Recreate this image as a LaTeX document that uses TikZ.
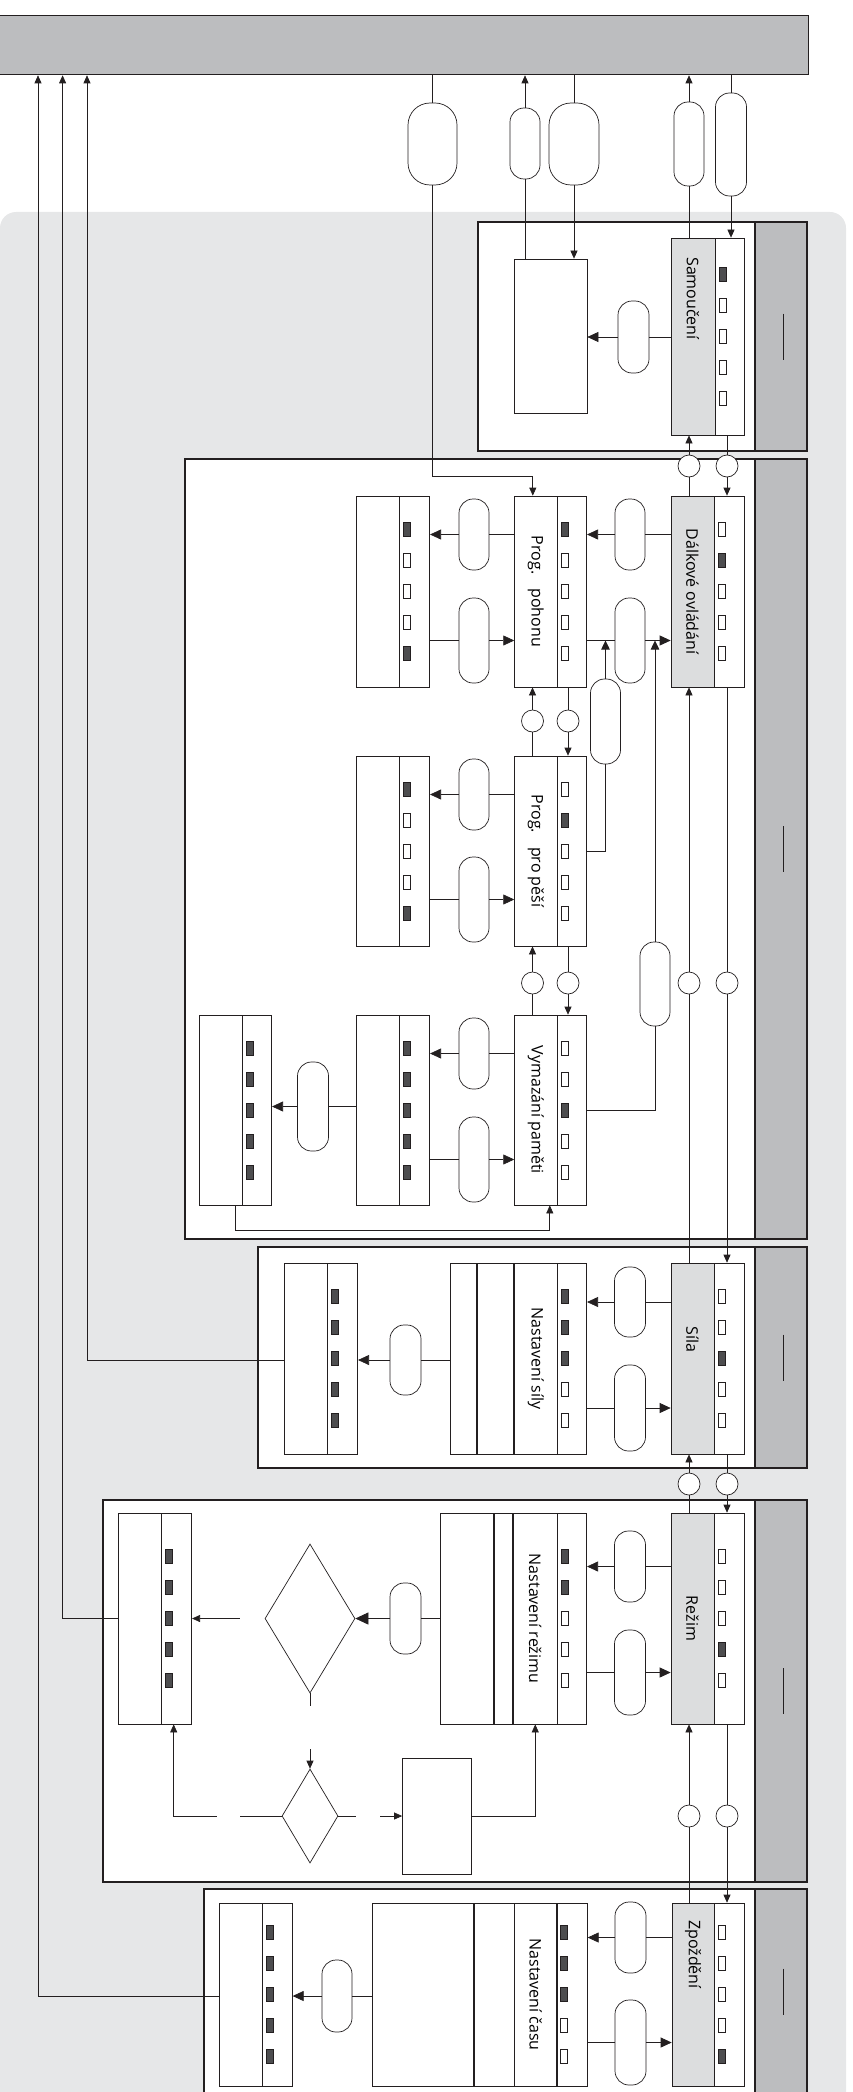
\documentclass[tikz,border=0pt]{standalone}
\usepackage{fontspec}
\setmainfont{Open Sans}
\usepackage{graphicx}
\usetikzlibrary{arrows.meta,positioning,calc,shapes.geometric}

\definecolor{bggray}{HTML}{E6E7E8}
\definecolor{midgray}{HTML}{BCBDBF}
\definecolor{hdrgray}{HTML}{DCDDDE}
\definecolor{dk}{HTML}{4D4D4F}
\definecolor{ln}{HTML}{231F20}

% vertical text, optional trailing space moves it up
\newcommand\vt[2][0pt]{\rotatebox{-90}{#2\hspace*{#1}}}
% five indicator lamps in a column node
\newcommand\inds[2]{%
  \foreach \s [count=\k] in {#2}
    \node[ind, fill=\s] (#1-\k) at ($(#1.west)+(7,{(\k-3)*31})$) {};}

\tikzset{
  lanebox/.style={draw=ln, line width=1.4pt, fill=white},
  strip/.style={draw=ln, line width=1.4pt, fill=midgray},
  bus/.style={draw=ln, line width=1.3pt, fill=midgray, inner sep=0pt},
  cell/.style={draw=ln, line width=0.7pt, fill=white, inner sep=0pt, minimum height=#1},
  hdr/.style={cell=#1, fill=hdrgray},
  ind/.style={draw=ln, line width=0.6pt, minimum width=7pt, minimum height=14pt, inner sep=0pt},
  cond/.style={draw=ln, line width=0.7pt, fill=white, rounded corners=14pt,
    minimum width=30pt, minimum height=#1, inner sep=0pt},
  conn/.style={circle, draw=ln, line width=0.7pt, fill=white, minimum size=22pt, inner sep=0pt},
  dec/.style={diamond, draw=ln, line width=0.7pt, fill=white, inner sep=0pt},
  arr/.style={-{Triangle[length=11pt,width=10pt]}},
  arrm/.style={-{Triangle[length=9pt,width=8.5pt]}},
  arrs/.style={-{Triangle[length=8pt,width=7pt]}},
}

\begin{document}
\begin{tikzpicture}[x=1pt, y=-1pt, line width=0.7pt, draw=ln,
  every node/.style={font=\fontsize{16pt}{19pt}\selectfont}]

  \useasboundingbox (0,0) rectangle (853,2092);

  % background and bus
  \fill[bggray, rounded corners=16pt] (0,212) rectangle (846,2140);
  \node[bus, minimum width=810pt, minimum height=59pt, anchor=north west] (bus) at (-2,15) {};

  % lanes with header strip
  \foreach \xl/\ya/\yb in {478/222/451, 185/459/1239, 258/1247/1468, 103/1500/1882, 204/1889/2094} {
    \draw[lanebox] (\xl,\ya) rectangle (807,\yb);
    \draw[strip] (755,\ya) rectangle (807,\yb);
    \draw (783,{(\ya+\yb)/2-23}) -- (783,{(\ya+\yb)/2+23});
  }

  % Samouceni lane
  \node[hdr=197pt, minimum width=44pt] (sam) at (693,336.5) {\vt[76pt]{Samoučení}};
  \node[cell=197pt, minimum width=29pt, right=0pt of sam] (samI) {};
  \inds{samI}{dk,white,white,white,white}
  \node[cell=154pt, minimum width=73pt] (samT) at (550.5,336) {};
  \node[cond=72pt, minimum width=31pt] (o1) at (633.5,337) {};
  \draw (sam.west |- o1) -- (o1);
  \draw[arr] (o1) -- (samT.east |- o1);

  % links to the bus
  \node[cond=82pt, minimum width=49pt, rounded corners=22pt] (oa) at (432.5,144) {};
  \node[cond=71pt] (ob) at (525,143.5) {};
  \node[cond=82pt, minimum width=50pt, rounded corners=22pt] (oc) at (574,144) {};
  \node[cond=84pt] (od) at (689,144) {};
  \node[cond=103pt, minimum width=31pt] (oe) at (731,144.5) {};
  \draw (bus.south -| oa) -- (oa);
  \draw (samT.north -| ob) -- (ob);
  \draw[arrs] (ob) -- (bus.south -| ob);
  \draw (bus.south -| oc) -- (oc);
  \draw[arrs] (oc) -- (samT.north -| oc);
  \draw (sam.north -| od) -- (od);
  \draw[arrs] (od) -- (bus.south -| od);
  \draw (bus.south -| oe) -- (oe);
  \draw[arrs] (oe) -- (samI.north -| oe);

  % Dalkove ovladani lane
  \node[hdr=191pt, minimum width=43pt] (dal) at (692.5,591.5) {\vt{Dálkové ovládání}};
  \node[cell=191pt, minimum width=30pt, right=0pt of dal] (dalI) {};
  \inds{dalI}{white,dk,white,white,white}

  \node[cell=191pt, minimum width=42.4pt] (poh) at (535.8,591.5) {\vt{Prog.\hspace{14pt}pohonu}};
  \node[cell=191pt, minimum width=29pt, right=0pt of poh] (pohI) {};
  \inds{pohI}{dk,white,white,white,white}
  \node[cell=191pt, minimum width=43pt] (pohL) at (377.5,591.5) {};
  \node[cell=191pt, minimum width=30pt, right=0pt of pohL] (pohLI) {};
  \inds{pohLI}{dk,white,white,white,dk}

  \node[cell=190pt, minimum width=42.4pt] (pes) at (535.8,851) {\vt{Prog.\hspace{14pt}pro pěší}};
  \node[cell=190pt, minimum width=29pt, right=0pt of pes] (pesI) {};
  \inds{pesI}{white,dk,white,white,white}
  \node[cell=190pt, minimum width=43pt] (pesL) at (377.5,851) {};
  \node[cell=190pt, minimum width=30pt, right=0pt of pesL] (pesLI) {};
  \inds{pesLI}{dk,white,white,white,dk}

  \node[cell=190pt, minimum width=42.4pt] (vym) at (535.8,1110) {\vt{Vymazání paměti}};
  \node[cell=190pt, minimum width=29pt, right=0pt of vym] (vymI) {};
  \inds{vymI}{white,white,dk,white,white}
  \node[cell=190pt, minimum width=43pt] (vymM) at (377.5,1110) {};
  \node[cell=190pt, minimum width=30pt, right=0pt of vymM] (vymMI) {};
  \inds{vymMI}{dk,dk,dk,dk,dk}
  \node[cell=190pt, minimum width=43pt] (vymL) at (220.5,1110) {};
  \node[cell=190pt, minimum width=29pt, right=0pt of vymL] (vymLI) {};
  \inds{vymLI}{dk,dk,dk,dk,dk}

  \node[cond=71pt] (o2) at (630,534.5) {};
  \node[cond=85pt] (o3) at (630,640.5) {};
  \node[cond=71pt] (o4) at (474,534.5) {};
  \node[cond=85pt] (o5) at (474,640.5) {};
  \node[cond=85pt] (o6) at (605.5,721.5) {};
  \node[cond=84pt] (o7) at (655,984) {};
  \node[cond=71pt] (o8) at (474,794.5) {};
  \node[cond=85pt] (o9) at (474,899.5) {};
  \node[cond=71pt] (o10) at (474,1053.5) {};
  \node[cond=85pt] (o11) at (474,1159.5) {};
  \node[cond=89pt, minimum width=31pt] (o12) at (313,1106.5) {};

  \draw (dal.west |- o2) -- (o2);
  \draw[arr] (o2) -- (pohI.east |- o2);
  \draw (pohI.east |- o3) -- (o3);
  \draw[arr] (o3) -- (dal.west |- o3);
  \draw (poh.west |- o4) -- (o4);
  \draw[arr] (o4) -- (pohLI.east |- o4);
  \draw (pohLI.east |- o5) -- (o5);
  \draw[arr] (o5) -- (poh.west |- o5);
  \draw (pesI.east) -| (o6);
  \draw[arrm] (o6) -- (o6 |- o3);
  \draw (vymI.east) -| (o7);
  \draw[arrm] (o7) -- (o7 |- o3);
  \draw (pes.west |- o8) -- (o8);
  \draw[arr] (o8) -- (pesLI.east |- o8);
  \draw (pesLI.east |- o9) -- (o9);
  \draw[arr] (o9) -- (pes.west |- o9);
  \draw (vym.west |- o10) -- (o10);
  \draw[arr] (o10) -- (vymMI.east |- o10);
  \draw (vymMI.east |- o11) -- (o11);
  \draw[arr] (o11) -- (vym.west |- o11);
  \draw (vymM.west |- o12) -- (o12);
  \draw[arr] (o12) -- (vymLI.east |- o12);
  \draw[arrs] ($(vymL.south)+(14.5,0)$) -- ++(0,25) -| ($(vym.south)+(14,0)$);

  % bus to Prog. pohonu
  \draw[arrs] (oa) |- ($(poh.north)+(-3,-19)$) -- ($(poh.north)+(-3,0)$);

  % links between program states
  \node[conn] (c9) at (532.5,721) {};
  \node[conn] (c10) at (568,721) {};
  \node[conn] (c11) at (532.5,983) {};
  \node[conn] (c12) at (568,983) {};
  \draw (pes.north -| c9) -- (c9);
  \draw[arrs] (c9) -- (poh.south -| c9);
  \draw (pohI.south -| c10) -- (c10);
  \draw[arrs] (c10) -- (pesI.north -| c10);
  \draw (vym.north -| c11) -- (c11);
  \draw[arrs] (c11) -- (pes.south -| c11);
  \draw (pesI.south -| c12) -- (c12);
  \draw[arrs] (c12) -- (vymI.north -| c12);

  % Sila lane
  \node[hdr=191pt, minimum width=43pt] (sil) at (692.5,1358.5) {\vt[38pt]{Síla}};
  \node[cell=191pt, minimum width=30pt, right=0pt of sil] (silI) {};
  \inds{silI}{white,white,dk,white,white}
  \node[cell=191pt, minimum width=42.5pt] (silN) at (535.75,1358.5) {\vt{Nastavení síly}};
  \node[cell=191pt, minimum width=29pt, right=0pt of silN] (silNI) {};
  \inds{silNI}{dk,dk,dk,white,white}
  \node[cell=191pt, minimum width=36.5pt, left=0pt of silN] (silNa) {};
  \node[cell=191pt, minimum width=26pt, left=0pt of silNa] (silNb) {};
  \node[cell=191pt, minimum width=43pt] (silL) at (305.5,1358.5) {};
  \node[cell=191pt, minimum width=30pt, right=0pt of silL] (silLI) {};
  \inds{silLI}{dk,dk,dk,dk,dk}
  \node[cond=70pt, minimum width=31pt] (o13) at (630,1302) {};
  \node[cond=86pt, minimum width=31pt] (o14) at (630,1408) {};
  \node[cond=70pt, minimum width=31pt] (o15) at (405.5,1360) {};
  \draw (sil.west |- o13) -- (o13);
  \draw[arr] (o13) -- (silNI.east |- o13);
  \draw (silNI.east |- o14) -- (o14);
  \draw[arr] (o14) -- (sil.west |- o14);
  \draw (silNb.west |- o15) -- (o15);
  \draw[arr] (o15) -- (silLI.east |- o15);
  \draw[arrs] (silL.west |- o15) -| ([xshift=89pt]bus.south west);

  % Rezim lane
  \node[hdr=211pt, minimum width=43pt] (rez) at (692.5,1618.5) {\vt{Režim}};
  \node[cell=211pt, minimum width=30pt, right=0pt of rez] (rezI) {};
  \inds{rezI}{white,white,white,dk,white}
  \node[cell=211pt, minimum width=43.5pt] (rezN) at (535.25,1618.5) {\vt{Nastavení režimu}};
  \node[cell=211pt, minimum width=29pt, right=0pt of rezN] (rezNI) {};
  \inds{rezNI}{dk,dk,white,white,white}
  \node[cell=211pt, minimum width=18.5pt, left=0pt of rezN] (rezNa) {};
  \node[cell=211pt, minimum width=53pt, left=0pt of rezNa] (rezNb) {};
  \node[cell=211pt, minimum width=43pt] (rezL) at (139.5,1618.5) {};
  \node[cell=211pt, minimum width=30pt, right=0pt of rezL] (rezLI) {};
  \inds{rezLI}{dk,dk,dk,dk,dk}
  \node[cond=71pt, minimum width=31pt] (o16) at (630,1566.5) {};
  \node[cond=85pt, minimum width=31pt] (o17) at (630,1672.5) {};
  \node[cond=71pt, minimum width=31pt] (o18) at (405.5,1618.5) {};
  \node[dec, minimum width=90pt, minimum height=149pt] (dia) at (310,1618.5) {};
  \node[dec, minimum width=56pt, minimum height=94pt] (sdia) at (310,1816) {};
  \node[cell=116pt, minimum width=69pt] (rB) at (437,1816) {};
  \draw (rez.west |- o16) -- (o16);
  \draw[arr] (o16) -- (rezNI.east |- o16);
  \draw (rezNI.east |- o17) -- (o17);
  \draw[arr] (o17) -- (rez.west |- o17);
  \draw (rezNb.west |- o18) -- (o18);
  \draw[-{Triangle[length=13pt,width=12pt]}] (o18) -- (dia.east);
  \draw[arrs, shorten <=25pt] (dia.west) -- (dia.west -| rezLI.east);
  \draw[arrs, dash pattern=on 13pt off 43pt on 200pt off 1pt] (dia.south) -- (sdia.north);
  \draw[arrs, dash pattern=on 42pt off 23pt on 500pt off 1pt] (sdia.west) -| ($(rezLI.south)+(-3,0)$);
  \draw[arrs, dash pattern=on 18pt off 24pt on 200pt off 1pt] (sdia.east) -- (rB.west);
  \draw[arrs] (rB.east) -| (rezN.south);
  \draw[arrs] (rezL.west) -| ([xshift=64.6pt]bus.south west);

  % Zpozdeni lane
  \node[hdr=183pt, minimum width=42pt] (zpo) at (693,1994.5) {\vt[80pt]{Zpoždění}};
  \node[cell=183pt, minimum width=30pt, right=0pt of zpo] (zpoI) {};
  \inds{zpoI}{white,white,white,white,dk}
  \node[cell=183pt, minimum width=42pt] (zpoN) at (535.6,1994.5) {\vt{Nastavení času}};
  \node[cell=183pt, minimum width=30pt, right=0pt of zpoN] (zpoNI) {};
  \inds{zpoNI}{dk,dk,dk,white,white}
  \node[cell=183pt, minimum width=39.7pt, left=0pt of zpoN] (zpoNa) {};
  \node[cell=183pt, minimum width=101pt, left=0pt of zpoNa] (zpoNb) {};
  \node[cell=183pt, minimum width=43pt] (zpoL) at (240.5,1994.5) {};
  \node[cell=183pt, minimum width=29.6pt, right=0pt of zpoL] (zpoLI) {};
  \inds{zpoLI}{dk,dk,dk,dk,dk}
  \node[cond=71pt, minimum width=31pt] (o19) at (630.5,1937.5) {};
  \node[cond=85pt, minimum width=31pt] (o20) at (630.5,2042.5) {};
  \node[cond=72pt] (o21) at (337,1996) {};
  \draw (zpo.west |- o19) -- (o19);
  \draw[arr] (o19) -- (zpoNI.east |- o19);
  \draw (zpoNI.east |- o20) -- (o20);
  \draw[arr] (o20) -- (zpo.west |- o20);
  \draw (zpoNb.west |- o21) -- (o21);
  \draw[arr] (o21) -- (zpoLI.east |- o21);
  \draw[arrs] (zpoL.west |- o21) -| ([xshift=40pt]bus.south west);

  % header links between lanes
  \node[conn] (c1) at (689,466) {};
  \node[conn] (c2) at (727,466) {};
  \node[conn] (c3) at (689,983) {};
  \node[conn] (c4) at (727,983) {};
  \node[conn] (c5) at (689,1484) {};
  \node[conn] (c6) at (727,1484) {};
  \node[conn] (c7) at (689,1816) {};
  \node[conn] (c8) at (727,1816) {};
  \draw (dal.north -| c1) -- (c1);
  \draw[arrs] (c1) -- (sam.south -| c1);
  \draw (samI.south -| c2) -- (c2);
  \draw[arrs] (c2) -- (dalI.north -| c2);
  \draw (sil.north -| c3) -- (c3);
  \draw[arrs] (c3) -- (dal.south -| c3);
  \draw (dalI.south -| c4) -- (c4);
  \draw[arrs] (c4) -- (silI.north -| c4);
  \draw (rez.north -| c5) -- (c5);
  \draw[arrs] (c5) -- (sil.south -| c5);
  \draw (silI.south -| c6) -- (c6);
  \draw[arrs] (c6) -- (rezI.north -| c6);
  \draw (zpo.north -| c7) -- (c7);
  \draw[arrs] (c7) -- (rez.south -| c7);
  \draw (rezI.south -| c8) -- (c8);
  \draw[arrs] (c8) -- (zpoI.north -| c8);

\end{tikzpicture}
\end{document}
